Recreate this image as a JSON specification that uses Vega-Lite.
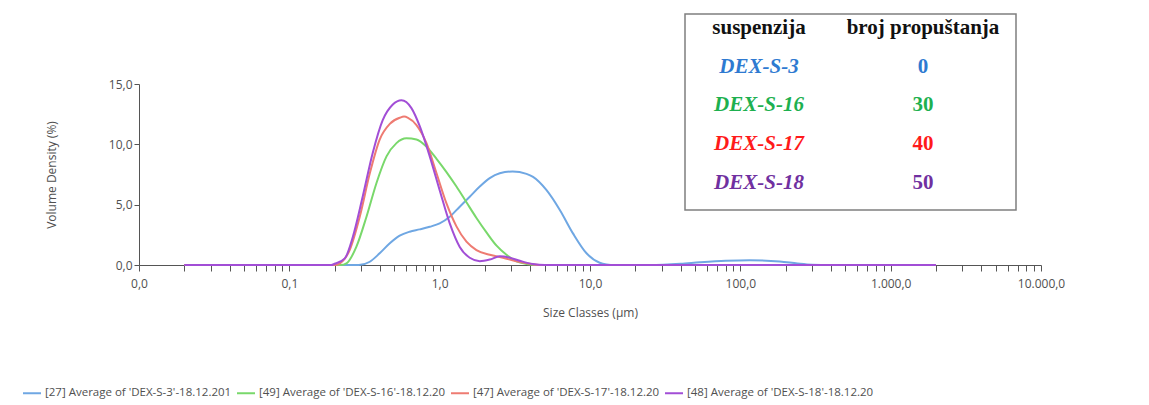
{
  "$schema": "https://vega.github.io/schema/vega-lite/v6.json",
  "width": 902,
  "height": 181,
  "autosize": {"type": "none"},
  "padding": {"left": 139, "top": 84, "right": 108, "bottom": 140},
  "background": "white",
  "config": {
    "locale": {"number": {"decimal": ",", "thousands": ".", "grouping": [3], "currency": ["", ""]}},
    "view": {"stroke": null},
    "font": "Open Sans",
    "axis": {
      "grid": false,
      "domainColor": "#555555",
      "tickColor": "#555555",
      "labelColor": "#505050",
      "titleColor": "#505050",
      "labelFont": "Open Sans",
      "titleFont": "Open Sans",
      "labelFontSize": 12,
      "titleFontSize": 12,
      "titleFontWeight": "normal"
    }
  },
  "datasets": {
    "psd": [
      {"series": "[27] Average of 'DEX-S-3'-18.12.201", "size": 0.02, "vol": 0},
      {"series": "[27] Average of 'DEX-S-3'-18.12.201", "size": 0.29, "vol": 0},
      {"series": "[27] Average of 'DEX-S-3'-18.12.201", "size": 0.343, "vol": 0.27},
      {"series": "[27] Average of 'DEX-S-3'-18.12.201", "size": 0.399, "vol": 0.97},
      {"series": "[27] Average of 'DEX-S-3'-18.12.201", "size": 0.466, "vol": 1.8},
      {"series": "[27] Average of 'DEX-S-3'-18.12.201", "size": 0.542, "vol": 2.43},
      {"series": "[27] Average of 'DEX-S-3'-18.12.201", "size": 0.632, "vol": 2.76},
      {"series": "[27] Average of 'DEX-S-3'-18.12.201", "size": 0.736, "vol": 2.95},
      {"series": "[27] Average of 'DEX-S-3'-18.12.201", "size": 0.859, "vol": 3.17},
      {"series": "[27] Average of 'DEX-S-3'-18.12.201", "size": 1.0, "vol": 3.45},
      {"series": "[27] Average of 'DEX-S-3'-18.12.201", "size": 1.167, "vol": 4.0},
      {"series": "[27] Average of 'DEX-S-3'-18.12.201", "size": 1.36, "vol": 4.83},
      {"series": "[27] Average of 'DEX-S-3'-18.12.201", "size": 1.585, "vol": 5.66},
      {"series": "[27] Average of 'DEX-S-3'-18.12.201", "size": 1.848, "vol": 6.5},
      {"series": "[27] Average of 'DEX-S-3'-18.12.201", "size": 2.153, "vol": 7.2},
      {"series": "[27] Average of 'DEX-S-3'-18.12.201", "size": 2.51, "vol": 7.6},
      {"series": "[27] Average of 'DEX-S-3'-18.12.201", "size": 3.06, "vol": 7.75},
      {"series": "[27] Average of 'DEX-S-3'-18.12.201", "size": 3.78, "vol": 7.55},
      {"series": "[27] Average of 'DEX-S-3'-18.12.201", "size": 4.18, "vol": 7.3},
      {"series": "[27] Average of 'DEX-S-3'-18.12.201", "size": 5.14, "vol": 6.2},
      {"series": "[27] Average of 'DEX-S-3'-18.12.201", "size": 6.3, "vol": 4.56},
      {"series": "[27] Average of 'DEX-S-3'-18.12.201", "size": 7.72, "vol": 2.6},
      {"series": "[27] Average of 'DEX-S-3'-18.12.201", "size": 9.48, "vol": 0.97},
      {"series": "[27] Average of 'DEX-S-3'-18.12.201", "size": 11.6, "vol": 0.19},
      {"series": "[27] Average of 'DEX-S-3'-18.12.201", "size": 12.9, "vol": 0.05},
      {"series": "[27] Average of 'DEX-S-3'-18.12.201", "size": 14.6, "vol": 0},
      {"series": "[27] Average of 'DEX-S-3'-18.12.201", "size": 25, "vol": 0},
      {"series": "[27] Average of 'DEX-S-3'-18.12.201", "size": 40, "vol": 0.1},
      {"series": "[27] Average of 'DEX-S-3'-18.12.201", "size": 53.7, "vol": 0.22},
      {"series": "[27] Average of 'DEX-S-3'-18.12.201", "size": 80, "vol": 0.35},
      {"series": "[27] Average of 'DEX-S-3'-18.12.201", "size": 115, "vol": 0.4},
      {"series": "[27] Average of 'DEX-S-3'-18.12.201", "size": 183, "vol": 0.3},
      {"series": "[27] Average of 'DEX-S-3'-18.12.201", "size": 240, "vol": 0.12},
      {"series": "[27] Average of 'DEX-S-3'-18.12.201", "size": 300, "vol": 0.02},
      {"series": "[27] Average of 'DEX-S-3'-18.12.201", "size": 400, "vol": 0},
      {"series": "[27] Average of 'DEX-S-3'-18.12.201", "size": 2000, "vol": 0},
      {"series": "[49] Average of 'DEX-S-16'-18.12.20", "size": 0.02, "vol": 0},
      {"series": "[49] Average of 'DEX-S-16'-18.12.20", "size": 0.22, "vol": 0},
      {"series": "[49] Average of 'DEX-S-16'-18.12.20", "size": 0.24, "vol": 0.14},
      {"series": "[49] Average of 'DEX-S-16'-18.12.20", "size": 0.279, "vol": 1.5},
      {"series": "[49] Average of 'DEX-S-16'-18.12.20", "size": 0.326, "vol": 4.0},
      {"series": "[49] Average of 'DEX-S-16'-18.12.20", "size": 0.38, "vol": 6.8},
      {"series": "[49] Average of 'DEX-S-16'-18.12.20", "size": 0.443, "vol": 9.0},
      {"series": "[49] Average of 'DEX-S-16'-18.12.20", "size": 0.516, "vol": 10.1},
      {"series": "[49] Average of 'DEX-S-16'-18.12.20", "size": 0.601, "vol": 10.5},
      {"series": "[49] Average of 'DEX-S-16'-18.12.20", "size": 0.701, "vol": 10.4},
      {"series": "[49] Average of 'DEX-S-16'-18.12.20", "size": 0.817, "vol": 9.8},
      {"series": "[49] Average of 'DEX-S-16'-18.12.20", "size": 0.953, "vol": 8.8},
      {"series": "[49] Average of 'DEX-S-16'-18.12.20", "size": 1.11, "vol": 7.7},
      {"series": "[49] Average of 'DEX-S-16'-18.12.20", "size": 1.293, "vol": 6.5},
      {"series": "[49] Average of 'DEX-S-16'-18.12.20", "size": 1.507, "vol": 5.2},
      {"series": "[49] Average of 'DEX-S-16'-18.12.20", "size": 1.757, "vol": 3.9},
      {"series": "[49] Average of 'DEX-S-16'-18.12.20", "size": 2.048, "vol": 2.7},
      {"series": "[49] Average of 'DEX-S-16'-18.12.20", "size": 2.39, "vol": 1.6},
      {"series": "[49] Average of 'DEX-S-16'-18.12.20", "size": 2.78, "vol": 0.85},
      {"series": "[49] Average of 'DEX-S-16'-18.12.20", "size": 3.24, "vol": 0.3},
      {"series": "[49] Average of 'DEX-S-16'-18.12.20", "size": 3.78, "vol": 0.08},
      {"series": "[49] Average of 'DEX-S-16'-18.12.20", "size": 4.36, "vol": 0},
      {"series": "[49] Average of 'DEX-S-16'-18.12.20", "size": 2000, "vol": 0},
      {"series": "[47] Average of 'DEX-S-17'-18.12.20", "size": 0.02, "vol": 0},
      {"series": "[47] Average of 'DEX-S-17'-18.12.20", "size": 0.2, "vol": 0},
      {"series": "[47] Average of 'DEX-S-17'-18.12.20", "size": 0.217, "vol": 0.14},
      {"series": "[47] Average of 'DEX-S-17'-18.12.20", "size": 0.252, "vol": 1.24},
      {"series": "[47] Average of 'DEX-S-17'-18.12.20", "size": 0.294, "vol": 4.0},
      {"series": "[47] Average of 'DEX-S-17'-18.12.20", "size": 0.343, "vol": 7.6},
      {"series": "[47] Average of 'DEX-S-17'-18.12.20", "size": 0.399, "vol": 10.4},
      {"series": "[47] Average of 'DEX-S-17'-18.12.20", "size": 0.466, "vol": 11.7},
      {"series": "[47] Average of 'DEX-S-17'-18.12.20", "size": 0.542, "vol": 12.2},
      {"series": "[47] Average of 'DEX-S-17'-18.12.20", "size": 0.58, "vol": 12.3},
      {"series": "[47] Average of 'DEX-S-17'-18.12.20", "size": 0.616, "vol": 12.2},
      {"series": "[47] Average of 'DEX-S-17'-18.12.20", "size": 0.701, "vol": 11.6},
      {"series": "[47] Average of 'DEX-S-17'-18.12.20", "size": 0.817, "vol": 10.1},
      {"series": "[47] Average of 'DEX-S-17'-18.12.20", "size": 0.953, "vol": 7.6},
      {"series": "[47] Average of 'DEX-S-17'-18.12.20", "size": 1.11, "vol": 5.1},
      {"series": "[47] Average of 'DEX-S-17'-18.12.20", "size": 1.293, "vol": 3.2},
      {"series": "[47] Average of 'DEX-S-17'-18.12.20", "size": 1.507, "vol": 1.93},
      {"series": "[47] Average of 'DEX-S-17'-18.12.20", "size": 1.757, "vol": 1.24},
      {"series": "[47] Average of 'DEX-S-17'-18.12.20", "size": 2.153, "vol": 0.85},
      {"series": "[47] Average of 'DEX-S-17'-18.12.20", "size": 2.64, "vol": 0.6},
      {"series": "[47] Average of 'DEX-S-17'-18.12.20", "size": 3.24, "vol": 0.3},
      {"series": "[47] Average of 'DEX-S-17'-18.12.20", "size": 3.98, "vol": 0.1},
      {"series": "[47] Average of 'DEX-S-17'-18.12.20", "size": 4.64, "vol": 0},
      {"series": "[47] Average of 'DEX-S-17'-18.12.20", "size": 2000, "vol": 0},
      {"series": "[48] Average of 'DEX-S-18'-18.12.20", "size": 0.02, "vol": 0},
      {"series": "[48] Average of 'DEX-S-18'-18.12.20", "size": 0.19, "vol": 0},
      {"series": "[48] Average of 'DEX-S-18'-18.12.20", "size": 0.2, "vol": 0.1},
      {"series": "[48] Average of 'DEX-S-18'-18.12.20", "size": 0.234, "vol": 0.55},
      {"series": "[48] Average of 'DEX-S-18'-18.12.20", "size": 0.264, "vol": 2.3},
      {"series": "[48] Average of 'DEX-S-18'-18.12.20", "size": 0.308, "vol": 5.7},
      {"series": "[48] Average of 'DEX-S-18'-18.12.20", "size": 0.359, "vol": 9.3},
      {"series": "[48] Average of 'DEX-S-18'-18.12.20", "size": 0.418, "vol": 12.0},
      {"series": "[48] Average of 'DEX-S-18'-18.12.20", "size": 0.488, "vol": 13.3},
      {"series": "[48] Average of 'DEX-S-18'-18.12.20", "size": 0.557, "vol": 13.65},
      {"series": "[48] Average of 'DEX-S-18'-18.12.20", "size": 0.649, "vol": 13.0},
      {"series": "[48] Average of 'DEX-S-18'-18.12.20", "size": 0.737, "vol": 11.5},
      {"series": "[48] Average of 'DEX-S-18'-18.12.20", "size": 0.859, "vol": 9.0},
      {"series": "[48] Average of 'DEX-S-18'-18.12.20", "size": 1.0, "vol": 6.2},
      {"series": "[48] Average of 'DEX-S-18'-18.12.20", "size": 1.167, "vol": 3.45},
      {"series": "[48] Average of 'DEX-S-18'-18.12.20", "size": 1.36, "vol": 1.5},
      {"series": "[48] Average of 'DEX-S-18'-18.12.20", "size": 1.585, "vol": 0.6},
      {"series": "[48] Average of 'DEX-S-18'-18.12.20", "size": 1.848, "vol": 0.32},
      {"series": "[48] Average of 'DEX-S-18'-18.12.20", "size": 2.153, "vol": 0.45},
      {"series": "[48] Average of 'DEX-S-18'-18.12.20", "size": 2.51, "vol": 0.72},
      {"series": "[48] Average of 'DEX-S-18'-18.12.20", "size": 2.93, "vol": 0.6},
      {"series": "[48] Average of 'DEX-S-18'-18.12.20", "size": 3.41, "vol": 0.35},
      {"series": "[48] Average of 'DEX-S-18'-18.12.20", "size": 4.16, "vol": 0.08},
      {"series": "[48] Average of 'DEX-S-18'-18.12.20", "size": 5.0, "vol": 0},
      {"series": "[48] Average of 'DEX-S-18'-18.12.20", "size": 2000, "vol": 0}
    ],
    "header": [
      {"col": 0, "label": "suspenzija"},
      {"col": 1, "label": "broj propuštanja"}
    ],
    "table": [
      {"row": 1, "sample": "DEX-S-3", "passes": 0},
      {"row": 2, "sample": "DEX-S-16", "passes": 30},
      {"row": 3, "sample": "DEX-S-17", "passes": 40},
      {"row": 4, "sample": "DEX-S-18", "passes": 50}
    ]
  },
  "layer": [
    {
      "data": {"name": "psd"},
      "mark": {"type": "line", "interpolate": "monotone", "strokeWidth": 2},
      "encoding": {
        "x": {
          "field": "size",
          "type": "quantitative",
          "scale": {"type": "log", "domain": [0.01, 10000], "nice": false},
          "axis": {
            "title": "Size Classes (µm)",
            "values": [0.01, 0.02, 0.03, 0.04, 0.05, 0.06, 0.07, 0.08, 0.09, 0.1, 0.2, 0.3, 0.4, 0.5, 0.6, 0.7, 0.8, 0.9, 1, 2, 3, 4, 5, 6, 7, 8, 9, 10, 20, 30, 40, 50, 60, 70, 80, 90, 100, 200, 300, 400, 500, 600, 700, 800, 900, 1000, 2000, 3000, 4000, 5000, 6000, 7000, 8000, 9000, 10000],
            "format": ",.1f",
            "labelExpr": "abs(log(datum.value)/LN10 - round(log(datum.value)/LN10)) < 0.001 ? datum.label : ''",
            "labelOverlap": false,
            "labelFlush": false,
            "labelBound": false,
            "tickSize": 6,
            "labelPadding": 7,
            "titlePadding": 18
          }
        },
        "y": {
          "field": "vol",
          "type": "quantitative",
          "scale": {"domain": [0, 15], "nice": false},
          "axis": {
            "title": "Volume Density (%)",
            "values": [0, 5, 10, 15],
            "format": ".1f",
            "tickSize": 5,
            "labelPadding": 2,
            "titlePadding": 50
          }
        },
        "color": {
          "field": "series",
          "type": "nominal",
          "scale": {
            "domain": ["[27] Average of 'DEX-S-3'-18.12.201", "[49] Average of 'DEX-S-16'-18.12.20", "[47] Average of 'DEX-S-17'-18.12.20", "[48] Average of 'DEX-S-18'-18.12.20"],
            "range": ["#6fa7e3", "#79d86b", "#ee7b72", "#a24ed6"]
          },
          "legend": {
            "orient": "none",
            "legendX": -117,
            "legendY": 299,
            "direction": "horizontal",
            "title": null,
            "symbolType": "stroke",
            "symbolSize": 324,
            "symbolStrokeWidth": 2,
            "labelFont": "Open Sans",
            "labelFontSize": 11.5,
            "labelColor": "#505050",
            "labelOffset": 3,
            "labelLimit": 0,
            "columnPadding": 1
          }
        }
      }
    },
    {
      "layer": [
        {
          "data": {"values": [{}]},
          "mark": {"type": "rect", "fill": "white", "stroke": "#7f7f7f", "strokeWidth": 1.5},
          "encoding": {
            "x": {"datum": -0.451, "type": "quantitative", "scale": {"domain": [-0.451, 1.567], "range": [546, 877], "nice": false, "zero": false}, "axis": null},
            "x2": {"datum": 1.567},
            "y": {"datum": -0.36, "type": "quantitative", "scale": {"domain": [-0.36, 4.7], "range": [-70, 126], "nice": false, "zero": false}, "axis": null},
            "y2": {"datum": 4.7}
          }
        },
        {
          "data": {"name": "header"},
          "mark": {"type": "text", "font": "Liberation Serif", "fontSize": 21, "fontWeight": "bold", "color": "#111111"},
          "encoding": {
            "x": {"field": "col", "type": "quantitative"},
            "y": {"datum": 0, "type": "quantitative"},
            "text": {"field": "label"}
          }
        },
        {
          "data": {"name": "table"},
          "mark": {"type": "text", "font": "Liberation Serif", "fontSize": 21, "fontWeight": "bold", "fontStyle": "italic"},
          "encoding": {
            "x": {"datum": 0, "type": "quantitative"},
            "y": {"field": "row", "type": "quantitative"},
            "text": {"field": "sample"},
            "color": {"field": "sample", "type": "nominal", "scale": {"domain": ["DEX-S-3", "DEX-S-16", "DEX-S-17", "DEX-S-18"], "range": ["#2e7ad1", "#1db04f", "#ff1a1a", "#7030a0"]}, "legend": null}
          }
        },
        {
          "data": {"name": "table"},
          "mark": {"type": "text", "font": "Liberation Serif", "fontSize": 21, "fontWeight": "bold"},
          "encoding": {
            "x": {"datum": 1, "type": "quantitative"},
            "y": {"field": "row", "type": "quantitative"},
            "text": {"field": "passes", "type": "quantitative"},
            "color": {"field": "sample", "type": "nominal", "legend": null}
          }
        }
      ]
    }
  ],
  "resolve": {"scale": {"x": "independent", "y": "independent", "color": "independent"}}
}
